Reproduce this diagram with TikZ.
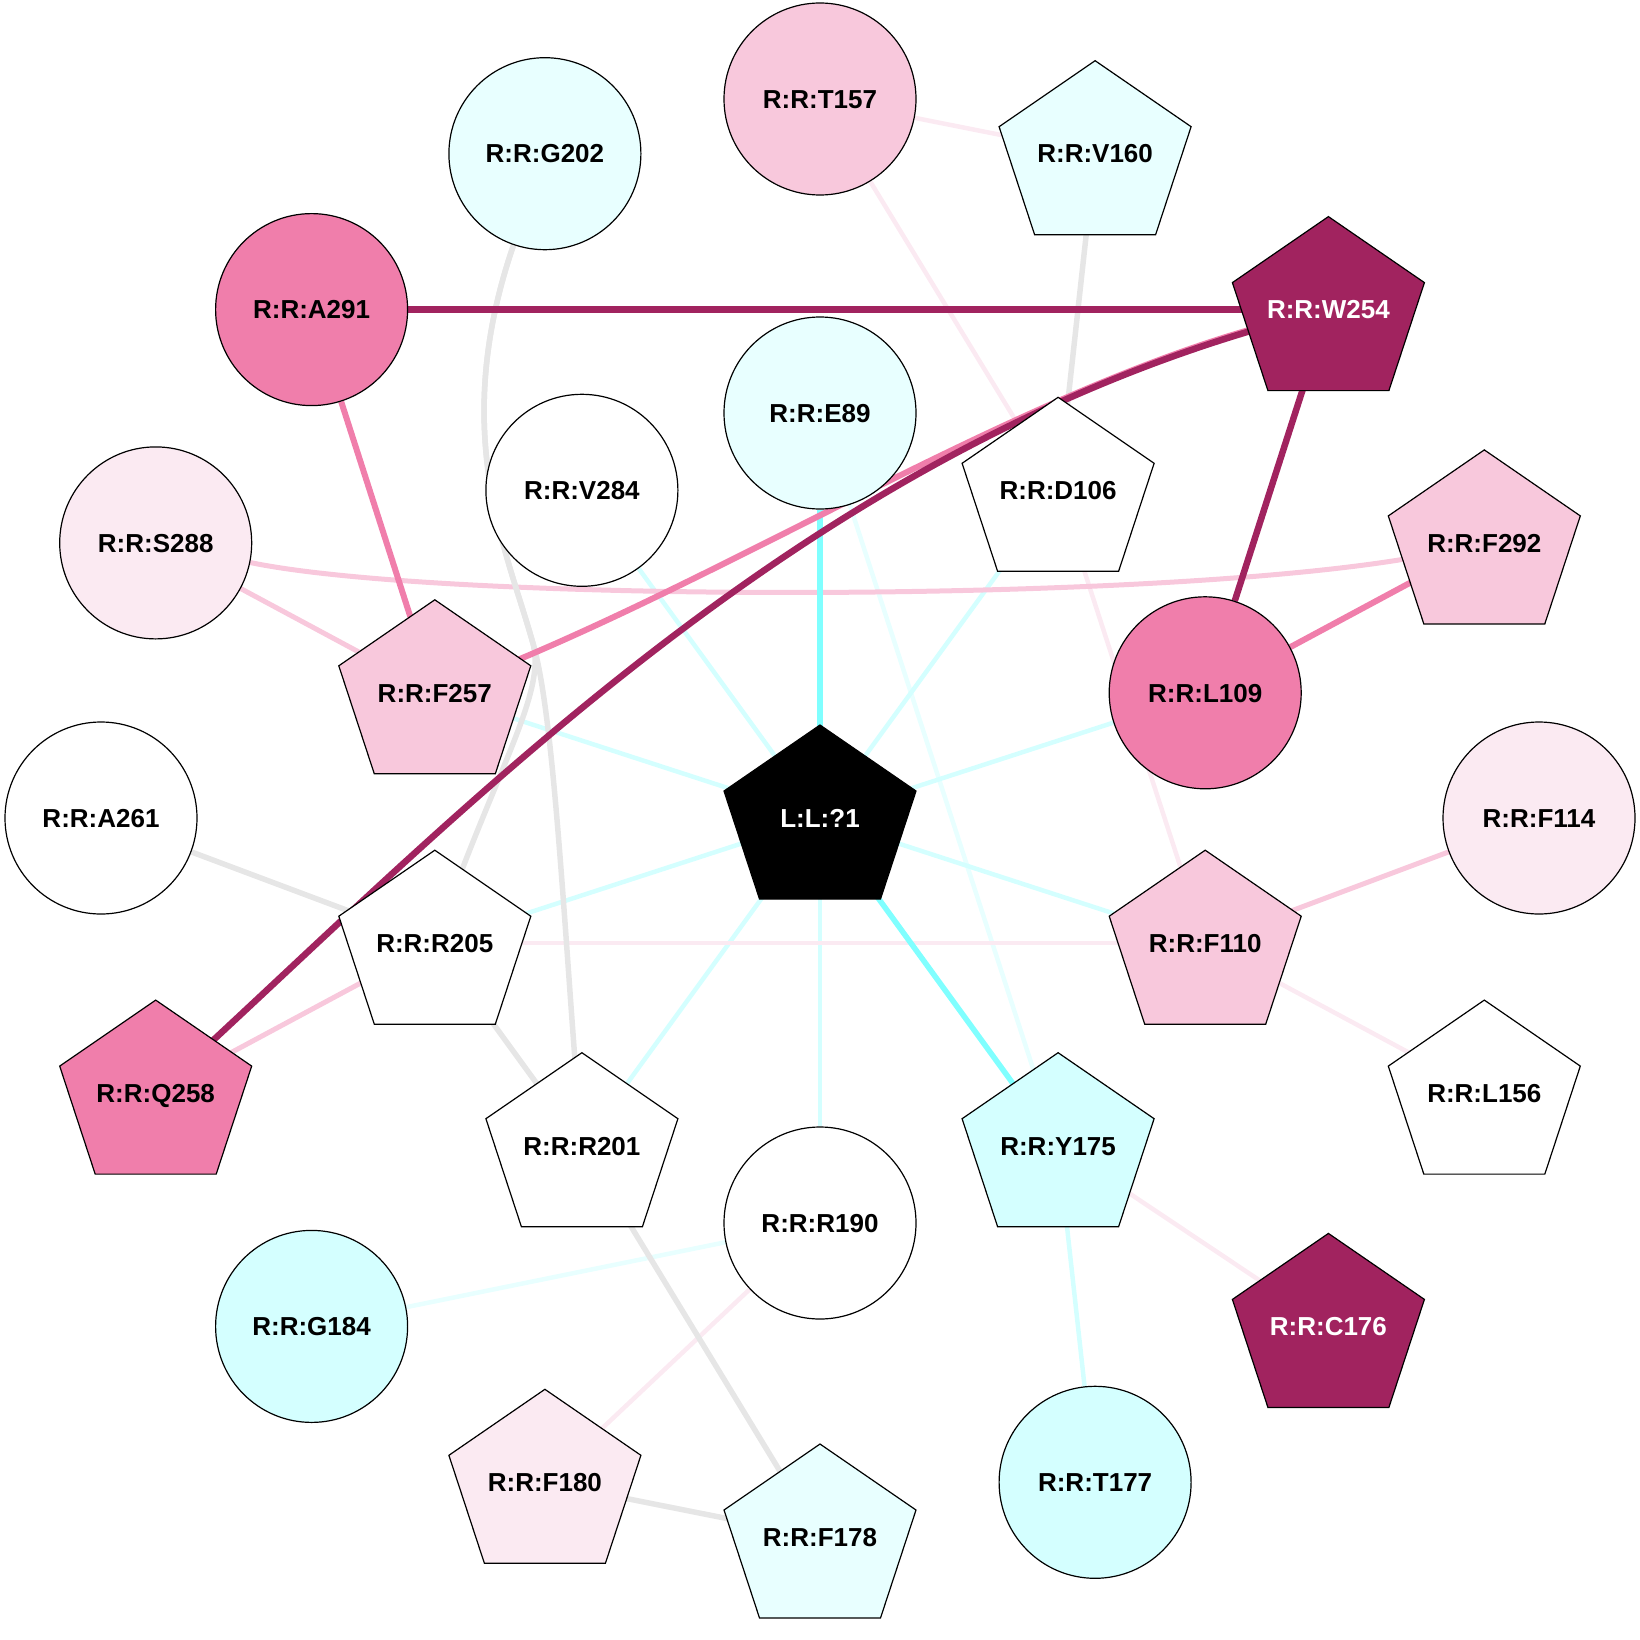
\documentclass[tikz,border=0pt]{standalone}
\usepackage{fontspec}
\setmainfont{Liberation Sans}
\pgfdeclarelayer{edges}
\pgfsetlayers{edges,main}
\definecolor{cyanA}{HTML}{E8FFFF}
\definecolor{cyanB}{HTML}{D4FFFF}
\definecolor{cyanC}{HTML}{80FFFF}
\definecolor{pinkA}{HTML}{FBEAF2}
\definecolor{pinkB}{HTML}{F8C8DC}
\definecolor{pinkC}{HTML}{F07EAB}
\definecolor{magD}{HTML}{A1235F}
\definecolor{greyE}{HTML}{E6E6E6}
\tikzset{
  lab/.style={font=\fontsize{26}{30}\selectfont\bfseries, text height=18.6pt, text depth=0pt, inner sep=0pt},
  circnode/.style={lab, circle, draw=black, line width=1.2pt, minimum size=192pt},
  pentshape/.style={draw=black, line width=1.2pt, line join=miter},
  ecyA/.style={draw=cyanA, line width=4.5pt},
  ecyB/.style={draw=cyanB, line width=4.5pt},
  ecyC/.style={draw=cyanC, line width=5.5pt},
  epkA/.style={draw=pinkA, line width=4.5pt},
  epkB/.style={draw=pinkB, line width=5pt},
  epkC/.style={draw=pinkC, line width=6pt},
  emag/.style={draw=magD, line width=6.5pt},
  egry/.style={draw=greyE, line width=5.5pt},
}
\newcommand{\pentnode}[6]{%
  \filldraw[pentshape, fill=#4] ({#2},{#3-93}) -- ({#2+96},{#3-27}) -- ({#2+60.5},{#3+81}) -- ({#2-60.5},{#3+81}) -- ({#2-96},{#3-27}) -- cycle;
  \node[lab, text=#5] (#1) at (#2,#3) {#6};
}
\begin{document}
\begin{tikzpicture}[x=1pt,y=-1pt]
\useasboundingbox (0,0) rectangle (1640,1640);
% circle nodes
\node[circnode, fill=pinkB]  (T157) at (820,99)      {R:R:T157};
\node[circnode, fill=cyanA]  (G202) at (544.9,153.7) {R:R:G202};
\node[circnode, fill=pinkC]  (A291) at (311.6,309.6) {R:R:A291};
\node[circnode, fill=cyanA]  (E89)  at (820,413)     {R:R:E89};
\node[circnode, fill=white]  (V284) at (581.9,490.3) {R:R:V284};
\node[circnode, fill=pinkA]  (S288) at (155.7,542.9) {R:R:S288};
\node[circnode, fill=pinkC]  (L109) at (1205.2,692.8) {R:R:L109};
\node[circnode, fill=white]  (A261) at (101,818)     {R:R:A261};
\node[circnode, fill=pinkA]  (F114) at (1539,818)    {R:R:F114};
\node[circnode, fill=white]  (R190) at (820,1223)    {R:R:R190};
\node[circnode, fill=cyanB]  (G184) at (311.6,1326.4) {R:R:G184};
\node[circnode, fill=cyanB]  (T177) at (1095.1,1482.3) {R:R:T177};
% pentagon nodes
\pentnode{V160}{1095.1}{153.7}{cyanA}{black}{R:R:V160}
\pentnode{W254}{1328.4}{309.6}{magD}{white}{R:R:W254}
\pentnode{D106}{1058.1}{490.3}{white}{black}{R:R:D106}
\pentnode{F292}{1484.3}{542.9}{pinkB}{black}{R:R:F292}
\pentnode{F257}{434.8}{692.8}{pinkB}{black}{R:R:F257}
\pentnode{L1}{820}{818}{black}{white}{L:L:?1}
\pentnode{R205}{434.8}{943.2}{white}{black}{R:R:R205}
\pentnode{F110}{1205.2}{943.2}{pinkB}{black}{R:R:F110}
\pentnode{Q258}{155.7}{1093.1}{pinkC}{black}{R:R:Q258}
\pentnode{L156}{1484.3}{1093.1}{white}{black}{R:R:L156}
\pentnode{R201}{581.9}{1145.7}{white}{black}{R:R:R201}
\pentnode{Y175}{1058.1}{1145.7}{cyanB}{black}{R:R:Y175}
\pentnode{C176}{1328.4}{1326.4}{magD}{white}{R:R:C176}
\pentnode{F180}{544.9}{1482.3}{pinkA}{black}{R:R:F180}
\pentnode{F178}{820}{1537}{cyanA}{black}{R:R:F178}
% edges
\begin{pgfonlayer}{edges}
\draw[ecyA] (E89) -- (Y175);
\draw[ecyA] (R190) -- (G184);
\draw[ecyB] (L1) -- (V284);
\draw[ecyB] (L1) -- (D106);
\draw[ecyB] (L1) -- (F257);
\draw[ecyB] (L1) -- (L109);
\draw[ecyB] (L1) -- (R205);
\draw[ecyB] (L1) -- (F110);
\draw[ecyB] (L1) -- (R201);
\draw[ecyB] (L1) -- (R190);
\draw[ecyB] (Y175) -- (T177);
\draw[epkA] (T157) -- (V160);
\draw[epkA] (T157) -- (D106);
\draw[epkA] (D106) -- (F110);
\draw[epkA] (R205) -- (F110);
\draw[epkA] (F110) -- (L156);
\draw[epkA] (Y175) -- (C176);
\draw[epkA] (R190) -- (F180);
\draw[epkB] (S288) -- (F257);
\draw[epkB] (S288) .. controls (450,604) and (1200,604) .. (F292);
\draw[epkB] (F110) -- (F114);
\draw[epkB] (R205) -- (Q258);
\coordinate (gsplit) at (532,640);
\draw[egry] (G202) .. controls (450,430) and (505,545) .. (gsplit) .. controls (548,690) and (500,760) .. (R205);
\draw[egry] (G202) .. controls (450,430) and (505,545) .. (gsplit) .. controls (555,712) and (565,950) .. (R201);
\draw[egry] (V160) -- (D106);
\draw[egry] (A261) -- (R205);
\draw[egry] (R205) -- (R201);
\draw[egry] (R201) -- (F178);
\draw[egry] (F180) -- (F178);
\draw[ecyC] (L1) -- (E89);
\draw[ecyC] (L1) -- (Y175);
\draw[epkC] (A291) -- (F257);
\draw[epkC] (F292) -- (L109);
\draw[epkC] (F257) .. controls (730,580) and (1028,383) .. (W254);
\draw[emag] (A291) -- (W254);
\draw[emag] (W254) -- (L109);
\draw[emag] (W254) .. controls (800,450) and (456,819) .. (Q258);
\end{pgfonlayer}
\end{tikzpicture}
\end{document}
